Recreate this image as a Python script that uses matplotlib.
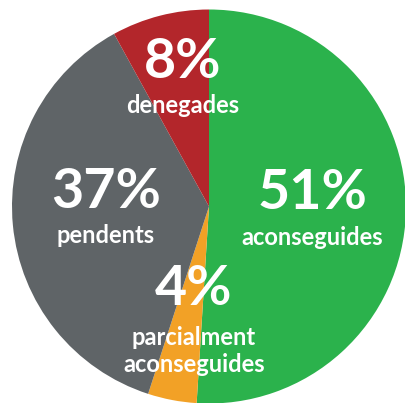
import matplotlib
matplotlib.use("Agg")
import matplotlib.pyplot as plt

# Data
categories = ["aconseguides", "parcialment\naconseguides", "pendents", "denegades"]
values = [51, 4, 37, 8]
pct_labels = ["51%", "4%", "37%", "8%"]

colors = ["#2bb24c", "#f2a126", "#5f6467", "#b3262b"]

W, H = 405, 403
fig = plt.figure(figsize=(W / 100, H / 100), dpi=100)
ax = fig.add_axes([0, 0, 1, 1])
ax.set_xlim(0, W)
ax.set_ylim(0, H)
ax.axis("off")

cx, cy, r = 209, H - 206.5, 197
ax.pie(values, colors=colors, startangle=90, counterclock=False,
       center=(cx, cy), radius=r, frame=True,
       wedgeprops=dict(linewidth=0, antialiased=True))
ax.set_xlim(0, W)
ax.set_ylim(0, H)
ax.axis("off")

font = "Lato"
# label anchor positions in pixel coords (x center, baseline of percent, baseline of text)
pos = [
    (312, 209, 245),
    (194, 305, 345),
    (106, 208, 243),
    (183, 78, 113),
]
for (x, yb_pct, yb_txt), pct, cat in zip(pos, pct_labels, categories):
    ax.text(x, H - yb_pct, pct, ha="center", va="baseline", color="white",
            fontsize=40, fontweight="bold", family=font)
    lines = cat.split("\n")
    for i, line in enumerate(lines):
        ax.text(x, H - (yb_txt + i * 27), line, ha="center", va="baseline",
                color="white", fontsize=17, fontweight="bold", family=font)

fig.savefig("out.png", dpi=100)
